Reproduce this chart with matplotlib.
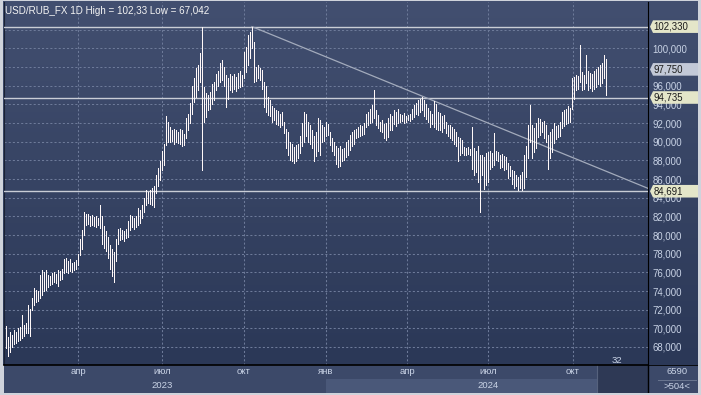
import matplotlib
matplotlib.use('Agg')
import matplotlib.pyplot as plt
import numpy as np
from matplotlib.patches import Polygon, Rectangle
from matplotlib.colors import LinearSegmentedColormap

plt.rcParams['font.family'] = ['Liberation Sans', 'DejaVu Sans']

# ---------------- data (daily bars) ----------------
highs = [
    70.2, 69.1, 69.6, 69.3, 69.8, 69.6, 70.0, 70.1, 71.4, 70.4,
    70.6, 72.5, 72.1, 73.2, 74.3, 74.1, 74.0, 75.7, 76.2, 76.0,
    76.2, 75.7, 75.6, 75.9, 76.0, 75.8, 76.2, 76.1, 76.4, 77.4,
    77.5, 77.2, 77.4, 77.0, 77.1, 77.3, 78.0, 79.6, 80.5, 82.5,
    82.3, 82.2, 82.0, 82.1, 81.9, 82.0, 81.8, 83.2, 82.0, 81.0,
    80.4, 79.8, 78.9, 78.5, 78.2, 79.6, 80.6, 80.8, 80.5, 80.4,
    80.6, 81.5, 82.1, 82.0, 81.8, 82.0, 82.9, 82.7, 83.2, 84.0,
    84.8, 84.6, 84.8, 85.0, 85.2, 86.4, 87.2, 87.9, 89.0, 89.8,
    92.7, 92.1, 91.6, 91.2, 91.4, 91.3, 91.0, 91.4, 91.2, 90.8,
    92.5, 93.0, 94.1, 96.0, 96.8, 97.9, 98.2, 99.5, 102.33, 95.9,
    95.2, 95.0, 95.3, 96.2, 96.4, 97.3, 97.6, 98.4, 98.75, 98.0,
    97.1, 96.8, 97.3, 97.0, 97.3, 96.9, 97.4, 97.6, 97.2, 99.6,
    100.2, 101.4, 101.8, 102.33, 100.7, 98.0, 98.2, 97.9, 97.7, 96.4,
    96.0, 94.8, 94.5, 93.8, 93.6, 93.4, 93.3, 93.0, 93.2, 92.1,
    91.4, 91.0, 90.0, 89.8, 89.4, 89.6, 89.8, 90.6, 92.0, 93.2,
    93.0, 92.1, 91.8, 91.2, 90.6, 91.0, 92.5, 92.3, 91.8, 91.6,
    92.1, 91.9, 91.0, 90.4, 90.0, 89.5, 89.3, 89.5, 89.2, 89.3,
    90.0, 90.2, 90.7, 91.0, 91.3, 91.4, 91.6, 91.8, 91.7, 92.0,
    93.0, 93.2, 93.5, 93.9, 95.5, 93.4, 92.9, 92.1, 92.3, 91.9,
    92.0, 92.5, 93.0, 92.8, 93.4, 93.2, 93.5, 93.0, 92.9, 93.1,
    92.8, 92.9, 93.0, 93.5, 93.9, 94.2, 94.5, 94.6, 94.8, 94.5,
    94.0, 93.6, 93.3, 93.0, 94.4, 94.0, 93.2, 93.1, 92.8, 92.9,
    92.1, 91.8, 91.8, 91.6, 91.4, 91.0, 90.5, 90.4, 90.2, 89.4,
    89.3, 89.4, 89.2, 91.6, 89.3, 89.0, 89.5, 88.6, 88.6, 88.4,
    88.8, 88.9, 89.0, 88.8, 90.9, 89.0, 88.9, 88.6, 88.7, 88.5,
    88.4, 87.7, 87.4, 87.0, 86.9, 86.4, 86.2, 86.4, 86.7, 88.6,
    89.5, 91.8, 93.9, 91.8, 91.5, 92.0, 92.5, 92.4, 92.1, 92.2,
    91.8, 90.7, 91.0, 91.4, 92.0, 91.7, 91.8, 92.1, 93.2, 93.4,
    93.5, 93.8, 93.6, 96.8, 96.9, 97.1, 97.0, 100.4, 97.5, 97.2,
    99.3, 97.6, 97.4, 97.3, 97.6, 97.8, 98.0, 98.2, 98.4, 99.3,
    98.9,
]
lows = [
    67.9, 67.0, 67.5, 68.0, 68.3, 68.4, 68.6, 68.8, 69.0, 69.2,
    69.5, 69.5, 69.2, 72.0, 72.5, 72.8, 72.9, 73.2, 73.6, 74.0,
    74.1, 74.4, 74.6, 74.8, 75.0, 74.9, 74.5, 75.2, 75.3, 75.9,
    76.0, 75.9, 76.1, 76.0, 76.3, 76.4, 76.8, 77.9, 78.5, 80.0,
    81.1, 81.2, 81.0, 81.1, 81.0, 80.9, 81.1, 80.7, 79.0, 78.6,
    78.3, 77.5, 76.4, 75.6, 75.0, 77.2, 79.0, 79.5, 79.6, 79.4,
    79.7, 79.8, 80.5, 80.9, 80.6, 80.9, 81.1, 81.3, 81.8, 82.5,
    83.2, 83.4, 83.3, 83.2, 83.0, 84.5, 85.3, 85.9, 87.0, 87.5,
    89.6, 90.0, 90.0, 90.1, 89.8, 90.0, 89.9, 89.8, 89.5, 89.6,
    90.4, 91.2, 92.0, 93.0, 94.3, 94.8, 95.5, 96.4, 87.0, 92.1,
    92.6, 93.4, 93.5, 94.0, 94.5, 95.5, 96.0, 96.4, 96.6, 96.0,
    93.75, 94.6, 95.5, 95.3, 95.6, 95.4, 95.8, 95.9, 96.0, 96.8,
    97.5, 98.2, 99.0, 100.0, 96.4, 96.5, 96.8, 96.6, 95.6, 93.7,
    93.2, 92.9, 92.8, 92.1, 92.3, 91.9, 91.8, 91.6, 91.8, 90.9,
    89.3, 88.6, 88.0, 87.9, 87.7, 87.9, 88.3, 88.8, 89.5, 90.0,
    90.6, 90.0, 89.8, 89.3, 87.9, 88.5, 89.0, 88.6, 90.0, 90.1,
    90.6, 90.7, 89.6, 89.0, 88.6, 87.6, 87.3, 87.4, 87.9, 88.0,
    88.4, 88.6, 89.1, 89.5, 89.8, 90.4, 90.5, 90.6, 90.7, 90.8,
    91.6, 91.8, 92.0, 92.1, 92.5, 91.8, 91.5, 91.1, 91.0, 90.4,
    90.2, 90.5, 91.2, 91.3, 91.9, 91.7, 92.0, 92.1, 92.2, 92.0,
    92.1, 92.3, 92.2, 92.4, 92.6, 93.0, 92.9, 93.2, 93.4, 92.8,
    92.4, 92.1, 91.6, 91.9, 91.6, 91.4, 91.2, 91.3, 91.0, 91.5,
    90.9, 90.6, 90.4, 90.2, 89.8, 89.5, 87.9, 88.6, 88.8, 88.6,
    88.6, 88.7, 88.6, 87.1, 86.4, 86.7, 85.7, 82.5, 86.4, 84.9,
    85.4, 85.7, 87.1, 87.3, 87.5, 88.0, 87.9, 87.2, 87.3, 87.0,
    87.1, 86.1, 86.3, 85.5, 85.0, 85.2, 84.8, 85.0, 84.8, 85.0,
    86.2, 88.2, 90.0, 88.2, 88.9, 89.3, 90.5, 90.7, 91.0, 90.4,
    90.0, 87.1, 88.2, 88.9, 89.9, 90.3, 90.5, 90.6, 91.5, 91.7,
    91.9, 92.0, 92.1, 93.5, 94.6, 95.5, 95.6, 96.4, 95.5, 95.6,
    96.3, 95.5, 95.8, 95.4, 95.6, 95.9, 96.2, 96.0, 96.3, 96.8,
    95.0,
]
last_close = 97.75
hl_levels = [102.33, 94.735, 84.691]
level_tags = ['102,330', '94,735', '84,691']
close_tag = '97,750'
trend_x = [123, 321]
trend_y = [102.33, 85.0]
y_ticks = [68, 70, 72, 74, 76, 78, 80, 82, 84, 86, 88, 90, 92, 94, 96, 98, 100, 102]
hidden_tick_labels = [102]
month_ticks = [36, 78, 119, 160, 200.5, 241, 283.5]
month_labels = ['апр', 'июл', 'окт', 'янв', 'апр', 'июл', 'окт']
year_ticks = [78, 241]
year_labels = ['2023', '2024']
year2024_start = 160
title = 'USD/RUB_FX 1D High = 102,33 Low = 67,042'

# ---------------- layout ----------------
W, H = 701, 395
fig = plt.figure(figsize=(W / 100, H / 100), dpi=100, facecolor='#cfd3db')


def rect(px0, py0, px1, py1):
    return [px0 / W, 1 - py1 / H, (px1 - px0) / W, (py1 - py0) / H]


# gradient background
bg = fig.add_axes(rect(3, 1, 698, 365))
grad = np.linspace(0, 1, 256).reshape(-1, 1)
cmap = LinearSegmentedColormap.from_list('g', ['#424f70', '#2b3857'])
bg.imshow(grad, aspect='auto', cmap=cmap, extent=[0, 1, 0, 1])
bg.set_axis_off()

XMIN, XMAX = -1, 321
YMIN, YMAX = 66.07, 104.97

ax = fig.add_axes(rect(4, 2, 648, 365))
ax.patch.set_alpha(0)
ax.set_xlim(XMIN, XMAX)
ax.set_ylim(YMIN, YMAX)

idx = np.arange(len(highs))
ax.vlines(idx, lows, highs, color='#fff8f8', lw=0.6, antialiased=False, zorder=4)

# grid / ticks
ax.set_yticks(y_ticks)
ax.set_yticklabels(['' if v in hidden_tick_labels else f'{v:.3f}'.replace('.', ',')
                    for v in y_ticks])
ax.yaxis.tick_right()
ax.tick_params(axis='y', length=0, pad=3, labelsize=6.9, labelcolor='#c9d3e6')
ax.set_xticks(month_ticks)
ax.tick_params(axis='x', length=0, labelbottom=False)
ax.grid(True, color='#6d7a99', ls=(0, (2, 2)), lw=0.75)
ax.set_axisbelow(True)

for lv in hl_levels:
    ax.axhline(lv, color='#c9cdd6', lw=1.0, zorder=3)
ax.plot(trend_x, trend_y, color='#a3abbc', lw=0.9, zorder=3)

ax.spines['top'].set_visible(False)
ax.spines['left'].set_color('#1a2234')
ax.spines['right'].set_color('#000000')
ax.spines['bottom'].set_color('#000000')
ax.spines['bottom'].set_linewidth(1.2)

ax.text(305.5, 66.5, '32', color='#c9d3e6', fontsize=6.8, ha='center', va='center')

fig.text(5 / W, 1 - 10.5 / H, title, color='#f4f4f4', fontsize=7.1, ha='left', va='center')

# right panel tags
rax = fig.add_axes(rect(648, 2, 698, 365))
rax.set_xlim(0, 50)
rax.set_ylim(YMIN, YMAX)
rax.set_axis_off()
hh = 6.3 / 9.33


def tag(v, label, fc):
    poly = Polygon([(2, v), (5, v + hh), (50, v + hh), (50, v - hh), (5, v - hh)],
                   closed=True, fc=fc, ec='none', zorder=5)
    rax.add_patch(poly)
    rax.text(5.5, v, label, color='#1b1b1b', fontsize=6.9, ha='left', va='center', zorder=6)


for lv, lab in zip(hl_levels, level_tags):
    tag(lv, lab, '#e4e6c9')
tag(last_close, close_tag, '#c3c9d7')

# bottom time panel
bax = fig.add_axes(rect(4, 365, 698, 393))
bax.set_xlim(XMIN, XMAX + 25)
bax.set_ylim(28, 0)
bax.set_axis_off()
bax.add_patch(Rectangle((XMIN, 0), XMAX + 25 - XMIN, 28, fc='#3c4969', ec='none'))
bax.add_patch(Rectangle((year2024_start, 14), 295.5 - year2024_start, 14, fc='#4a5879', ec='none'))
bax.add_patch(Rectangle((295.5, 0), XMAX - 295.5, 28, fc='#2e3955', ec='none'))
bax.plot([295.5, 295.5], [0, 28], color='#56627d', lw=0.8)
bax.plot([XMAX, XMAX], [0, 28], color='#000000', lw=1.0)
bax.plot([XMIN, XMAX + 25], [0.4, 0.4], color='#000000', lw=1.2)
bax.plot([XMAX + 5, XMAX + 24], [14.5, 14.5], color='#6a7690', lw=0.7)
for t, lab in zip(month_ticks, month_labels):
    bax.text(t, 6.5, lab, color='#c9d3e6', fontsize=6.8, ha='center', va='center')
for t, lab in zip(year_ticks, year_labels):
    bax.text(t, 20.5, lab, color='#c9d3e6', fontsize=6.8, ha='center', va='center')
bax.text(XMAX + 14.5, 7, '6590', color='#c9d3e6', fontsize=6.8, ha='center', va='center')
bax.text(XMAX + 14.5, 21.5, '>504<', color='#c9d3e6', fontsize=6.8, ha='center', va='center')

fig.savefig('out.png', dpi=100, facecolor=fig.get_facecolor())
